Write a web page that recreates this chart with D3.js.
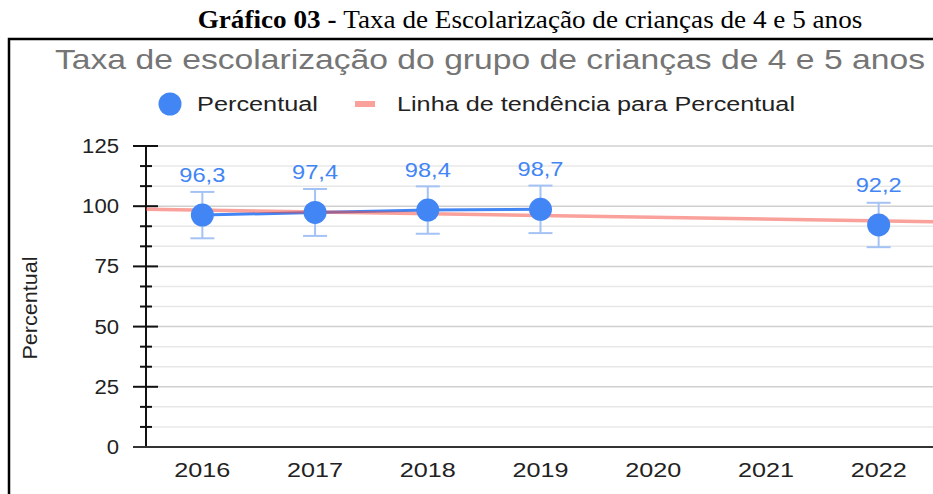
<!DOCTYPE html>
<html>
<head>
<meta charset="utf-8">
<script src="https://cdn.jsdelivr.net/npm/d3@7"></script>
<style>
  body { margin: 0; background: #fff; }
  svg { display: block; }
  text { font-family: "Liberation Sans", Arial, sans-serif; }
</style>
</head>
<body>
<div id="graphdiv"></div>
<script>
var years = ["2016", "2017", "2018", "2019", "2020", "2021", "2022"];
var percentual = [96.3, 97.4, 98.4, 98.7, null, null, 92.2];
var yTicks = [0, 25, 50, 75, 100, 125];
var labels = ["96,3", "97,4", "98,4", "98,7", null, null, "92,2"];

var W = 933, H = 494;
var blue = "#4285f4";

// the reference text is a bit wider than the installed fonts: set the width directly
function fit(sel, w) {
    sel.attr("textLength", w).attr("lengthAdjust", "spacingAndGlyphs");
}
// width per character count (digits, comma)
function fitDigits(sel, perChar) {
    sel.each(function() {
        var t = d3.select(this).text();
        d3.select(this).attr("textLength", t.length * perChar).attr("lengthAdjust", "spacingAndGlyphs");
    });
}

var svg = d3.select("#graphdiv").append("svg").attr("width", W).attr("height", H);

// document caption above the box (condensed serif)
var cap = svg.append("text").attr("x", 530).attr("y", 28).attr("text-anchor", "middle")
    .style("font-family", "'Liberation Serif', 'Times New Roman', serif").style("font-size", "26px").attr("fill", "#000");
cap.append("tspan").style("font-weight", "bold").text("Gráfico 03 - ");
cap.append("tspan").text("Taxa de Escolarização de crianças de 4 e 5 anos");
var cw = cap.node().getBBox().width;
cap.attr("transform", "translate(530,0) scale(" + (665 / cw) + ",1) translate(-530,0)");

// frame
svg.append("path").attr("d", "M9," + H + " L9,39 L" + W + ",39")
    .attr("fill", "none").attr("stroke", "#000").attr("stroke-width", 2.5);

// chart title
svg.append("text").attr("x", 490).attr("y", 69).attr("text-anchor", "middle")
    .style("font-size", "28px").attr("fill", "#757575")
    .text("Taxa de escolarização do grupo de crianças de 4 e 5 anos").call(fit, 870);

// legend
svg.append("circle").attr("cx", 170).attr("cy", 104).attr("r", 11.5).attr("fill", blue);
svg.append("text").attr("x", 197).attr("y", 111).style("font-size", "20px").attr("fill", "#222")
    .text("Percentual").call(fit, 121);
svg.append("rect").attr("x", 355).attr("y", 101).attr("width", 20).attr("height", 6).attr("fill", "#f44336").attr("opacity", 0.5);
svg.append("text").attr("x", 397).attr("y", 111).style("font-size", "20px").attr("fill", "#222")
    .text("Linha de tendência para Percentual").call(fit, 398);

// scales
var x = d3.scaleBand().domain(years).range([146, 935]);
var xc = function(d) { return x(d) + x.bandwidth() / 2; };
var y = d3.scaleLinear().domain([0, 125]).range([447, 146]);

// gridlines: major every 25, two minor lines between
var minor = d3.range(0, 125, 25 / 3).filter(function(v) { return Math.round(v * 3) % 75 !== 0; });
svg.selectAll(".minorgrid").data(minor).enter().append("line")
    .attr("x1", 146).attr("x2", W).attr("y1", function(d) { return y(d); }).attr("y2", function(d) { return y(d); })
    .attr("stroke", "#e8e8e8").attr("stroke-width", 1.5);
svg.selectAll(".majorgrid").data(yTicks.filter(function(d) { return d > 0; })).enter().append("line")
    .attr("x1", 146).attr("x2", W).attr("y1", function(d) { return y(d); }).attr("y2", function(d) { return y(d); })
    .attr("stroke", "#d0d0d0").attr("stroke-width", 1.5);

// y axis with major/minor ticks
svg.append("line").attr("x1", 146).attr("x2", 146).attr("y1", y(125)).attr("y2", y(0))
    .attr("stroke", "#111").attr("stroke-width", 2);
svg.selectAll(".minortick").data(minor).enter().append("line")
    .attr("x1", 140).attr("x2", 152).attr("y1", function(d) { return y(d); }).attr("y2", function(d) { return y(d); })
    .attr("stroke", "#111").attr("stroke-width", 2);
svg.selectAll(".majortick").data(yTicks).enter().append("line")
    .attr("x1", 133).attr("x2", 158).attr("y1", function(d) { return y(d); }).attr("y2", function(d) { return y(d); })
    .attr("stroke", "#111").attr("stroke-width", 2);
svg.selectAll(".ylab").data(yTicks).enter().append("text")
    .attr("x", 119).attr("y", function(d) { return y(d) + 7; }).attr("text-anchor", "end")
    .style("font-size", "20px").attr("fill", "#222").text(function(d) { return d; }).call(fitDigits, 12.3);

// x axis baseline
svg.append("line").attr("x1", 133).attr("x2", W).attr("y1", y(0)).attr("y2", y(0))
    .attr("stroke", "#333").attr("stroke-width", 2);
svg.selectAll(".xlab").data(years).enter().append("text")
    .attr("x", xc).attr("y", 477).attr("text-anchor", "middle")
    .style("font-size", "20px").attr("fill", "#222").text(function(d) { return d; }).call(fitDigits, 14);

// y axis title
svg.append("text").attr("transform", "translate(37,308) rotate(-90)").attr("text-anchor", "middle")
    .style("font-size", "20px").attr("fill", "#222").text("Percentual").call(fit, 103);

var pts = years.map(function(d, i) { return { year: d, v: percentual[i], label: labels[i] }; })
    .filter(function(d) { return d.v !== null; });

// error bars (10%)
var eb = svg.selectAll(".err").data(pts).enter().append("g").attr("stroke", "#a4c2f4").attr("stroke-width", 2);
eb.append("line").attr("x1", function(d) { return xc(d.year); }).attr("x2", function(d) { return xc(d.year); })
    .attr("y1", function(d) { return y(d.v * 1.1); }).attr("y2", function(d) { return y(d.v * 0.9); });
eb.append("line").attr("x1", function(d) { return xc(d.year) - 12; }).attr("x2", function(d) { return xc(d.year) + 12; })
    .attr("y1", function(d) { return y(d.v * 1.1); }).attr("y2", function(d) { return y(d.v * 1.1); });
eb.append("line").attr("x1", function(d) { return xc(d.year) - 12; }).attr("x2", function(d) { return xc(d.year) + 12; })
    .attr("y1", function(d) { return y(d.v * 0.9); }).attr("y2", function(d) { return y(d.v * 0.9); });

// series line (gaps where null)
var line = d3.line().defined(function(d) { return d.v !== null; })
    .x(function(d) { return xc(d.year); }).y(function(d) { return y(d.v); });
var all = years.map(function(d, i) { return { year: d, v: percentual[i] }; });
svg.append("path").attr("d", line(all)).attr("fill", "none").attr("stroke", blue).attr("stroke-width", 3);

// linear trend line (least squares on the data)
var xs = pts.map(function(d) { return +d.year; });
var ys = pts.map(function(d) { return d.v; });
var mx = d3.mean(xs), my = d3.mean(ys);
var sxy = d3.sum(xs, function(v, i) { return (v - mx) * (ys[i] - my); });
var sxx = d3.sum(xs, function(v) { return (v - mx) * (v - mx); });
var slope = sxy / sxx;
var step = x.step();
var yearAt = function(px) { return 2016 + (px - xc("2016")) / step; };
var trend = function(px) { return my + slope * (yearAt(px) - mx); };
svg.append("line").attr("x1", 146).attr("x2", W).attr("y1", y(trend(146))).attr("y2", y(trend(W)))
    .attr("stroke", "#f44336").attr("stroke-opacity", 0.5).attr("stroke-width", 3.5);

// points
svg.selectAll(".pt").data(pts).enter().append("circle")
    .attr("cx", function(d) { return xc(d.year); }).attr("cy", function(d) { return y(d.v); })
    .attr("r", 11.5).attr("fill", blue);

// data labels
svg.selectAll(".dl").data(pts).enter().append("text")
    .attr("x", function(d) { return xc(d.year); }).attr("y", function(d) { return y(d.v) - 33; })
    .attr("text-anchor", "middle").style("font-size", "20px").attr("fill", blue)
    .text(function(d) { return d.label; }).call(fit, 46);
</script>
</body>
</html>
